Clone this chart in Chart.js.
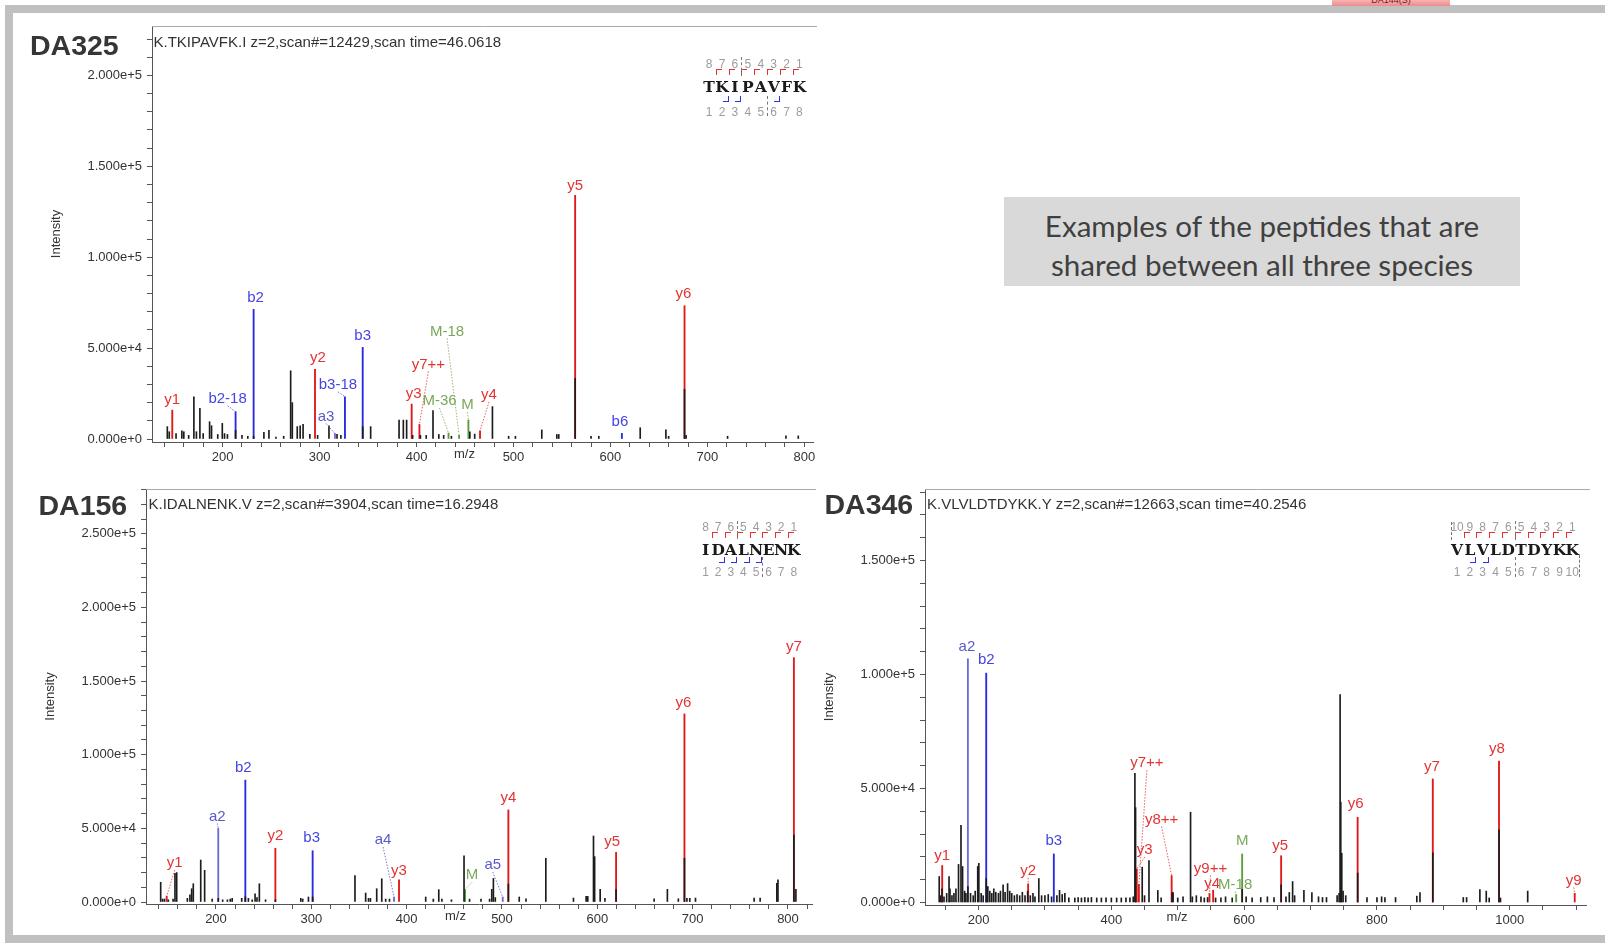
<!DOCTYPE html>
<html><head><meta charset="utf-8">
<script src="https://cdn.jsdelivr.net/npm/chart.js@4.4.0/dist/chart.umd.min.js"></script>
<style>
html,body{margin:0;padding:0;background:#fff;}
#page{position:relative;width:1605px;height:945px;overflow:hidden;background:#fff;}
#page canvas{position:absolute;}
#page div{position:absolute;white-space:nowrap;line-height:1;}
</style></head><body><div id="page"></div>
<script>
// ================= DATA =================
// DA325  K.TKIPAVFK.I
const DA325_PEAK_MZ = [143,145,152,158,160,165,170.4,173,176.6,180,186.6,188.6,195,199.7,202,205,213.4,220,226,232,242.6,247.8,255,263,270.2,271.9,277,280,283,290,298,309.7,318,322,344.5,352.7,382,386.4,389.8,396,404,410,417,423,428,436,455,460,478.3,495,502,529.2,544.7,546.7,563.6,580,588,630.7,657.2,660,676.4,678,720.8,781,793.7];
const DA325_PEAK_INT = [6800,4000,3000,4500,4000,2000,23200,4000,16900,3000,9500,7300,2500,8600,3000,2500,4800,2000,1500,1500,3700,4800,1000,1500,37500,20000,6800,7300,8000,2500,2000,7300,2500,2000,6800,6800,10400,10400,10400,2000,2000,2000,15600,2500,2000,1500,4000,2700,17800,1500,1500,5000,2500,2500,33300,1500,1500,6200,5000,1500,27300,2000,1500,1700,1700];
const DA325_ION_LABEL = ['y1','b2-18','b2','y2','a3','b3-18','b3','y3','y7++','M-36','M-18','M','y4','y5','b6','y6'];
const DA325_ION_MZ = [148.1,213.4,232,295.3,315.9,326.2,344.5,395,403,433,443.9,453.5,465.5,563.6,611.8,676.4];
const DA325_ION_INT = [15900,15000,71300,38300,3000,23200,50400,19200,8000,3300,2000,10400,4500,134000,3100,73300];

// DA156  K.IDALNENK.V
const DA156_PEAK_MZ = [142,144,146,150,155,157,158.8,170,172.7,174.5,176.2,184,188.1,196,202.4,207,212,215,217,227,230.8,234,238,241,243,245.5,252,262.3,289,291,297,301.4,345.8,357,360,362,368.6,373.9,378,382,420,428,433.7,437,447,460.2,466,478,487,489.3,491,493,506.7,518.1,525.2,546,575,588.3,590,596,597.2,603,608,619.7,659.6,673.5,685,691.4,694,697,703,764.5,770.8,788.3,789.5,806.2,808.3];
const DA156_PEAK_INT = [13400,2000,2000,1500,2000,19500,20000,2500,4800,9000,12400,28500,21500,2000,2500,1500,1500,2000,2500,2500,3500,2500,1500,5600,3000,12400,1500,1500,2500,2000,3400,3400,17900,6100,2500,2500,9000,15800,2000,2000,3400,2000,8400,2000,1500,31400,2000,2000,2000,8600,16000,3000,12200,3400,2200,29700,2700,3800,3800,44800,30800,8600,2500,8400,2200,8600,2200,29700,2500,2500,2700,2700,2700,12700,15000,45500,8600];
const DA156_ION_LABEL = ['y1','a2','b2','y2','b3','a4','y3','M','a5','y4','y5','y6','y7'];
const DA156_ION_MZ = [148.3,202.4,230.8,262.3,301.4,386.8,392,461.3,500.8,506.7,619.7,691.4,806.2];
const DA156_ION_INT = [4000,50000,82800,36500,34800,3400,15000,8600,3400,62500,33700,127700,165900];

// DA346  K.VLVLDTDYKK.Y
const DA346_PEAK_MZ = [
 140.8,143,145,148,152,155.6,157,160,163,166,
 169.9,173.6,176,179,181,184,188,192,195,198.8,
 200.5,204,207,211.6,214,217,220,223,226,230,
 233,237,240,243.8,247,250,254,258,262,266,
 270,274,278,282,285,290.8,295,300,305,310,
 318,322,326,330,336,345,350,355,360,365,
 370,378,385,392,400,408,415,422,428,433,
 435.5,436.5,446.5,450,456.7,470,475,491.5,493,500,
 508,519.3,522,528,535,540,545,557,565,572,
 582,597,603,612,625,635,645,655.7,663,668,
 673,676,690,702,712,718,724,740,743,744.5,
 745.5,747,749,753,771,785,800,807,812,828,
 860,864.8,884.1,930,935,955,964.6,969,983.8,986,
 1027];
const DA346_PEAK_INT = [
 11400,3000,6000,2500,4000,11400,6000,3000,4000,6000,
 16700,33800,15800,5000,4000,7000,4000,3000,5000,15800,
 17200,4000,3000,10500,7000,5000,4000,6000,4500,4000,
 5000,7800,4500,8300,5000,4000,3000,3500,3000,4500,
 3000,5000,3000,4000,2500,10500,3000,3000,3500,2500,
 3000,5300,3500,4000,2000,2000,2200,2000,2200,2000,
 2200,2000,2000,2000,2000,2000,2000,2000,2000,2500,
 56700,41600,15500,3000,18400,5300,2000,4400,4400,2000,
 2500,39600,2500,3000,2500,2000,2200,2000,2000,2500,
 2000,6000,2500,2000,2200,2500,2200,7800,2500,4400,
 9200,3000,5300,4400,2500,2200,2200,3000,4000,91200,
 44000,21600,5000,3000,12900,2200,2200,2500,2200,2200,
 2800,4400,21800,2200,2200,5700,5000,2000,31900,2000,
 5000];
const DA346_ION_LABEL = ['y1','a2','b2','y2','b3','y3','y7++','y8++','y9++','y4','M-18','M','y5','y6','y7','y8','y9'];
const DA346_ION_MZ = [145.3,184,211.6,274.7,313.4,438.3,441.5,490.8,547.8,553.3,588,597,655.7,770.9,884.1,983.8,1097.8];
const DA346_ION_INT = [16200,106900,100600,8200,21300,14700,8000,11800,4000,5400,3500,21300,20500,37400,54200,62000,4000];

// tick labels
const X_TICKS_A = [140,160,180,200,220,240,260,280,300,320,340,360,380,400,420,440,460,480,500,520,540,560,580,600,620,640,660,680,700,720,740,760,780,800];
const X_TICKS_B = X_TICKS_A.concat([820]);
const X_LABELS_AB = [200,300,400,500,600,700,800];
const X_TICKS_C = [150,200,250,300,350,400,450,500,550,600,650,700,750,800,850,900,950,1000,1050,1100];
const X_LABELS_C = [200,400,600,800,1000];
const Y_TICKS_A = [0,10000,20000,30000,40000,50000,60000,70000,80000,90000,100000,110000,120000,130000,140000,150000,160000,170000,180000,190000,200000,210000,220000];
const Y_LABELS_A = [0,50000,100000,150000,200000];
const Y_TICKS_B = Y_TICKS_A.concat([230000,240000,250000,260000,270000,280000]);
const Y_LABELS_B = [0,50000,100000,150000,200000,250000];
const Y_TICKS_C = Y_TICKS_A.slice(0,19);
const Y_LABELS_C = [0,50000,100000,150000];

// ================= LAYOUT (positions / styles) =================
// label offsets relative to peak top: [dx, dy, leader]
const DA325_LBL_POS = [[0,-10,0],[-8,-13,1],[2,-12,0],[3,-12,0],[-9,-17,1],[-7,-12,1],[0,-12,0],[2,-10,0],[9,-60,1],[-9,-32,1],[-12,-104,1],[-1,-15,1],[9,-36,1],[0,-10,0],[-2,-12,0],[-1,-12,0]];
const DA156_LBL_POS = [[8,-33,1],[-1,-12,1],[-2,-12,0],[0,-12,0],[-1,-13,0],[-11,-57,1],[0,-9,0],[7,-14,1],[-10,-32,1],[0,-12,0],[-4,-11,0],[-1,-11,0],[0,-11,0]];
const DA346_LBL_POS = [[0,-10,0],[-1,-12,0],[0,-13,0],[0,-13,1],[0,-13,0],[8,-19,1],[8,-121,1],[-10,-56,1],[1,-25,1],[-1,-6,0],[-1,-10,1],[0,-13,0],[-1,-10,0],[-2,-13,0],[-1,-12,0],[-2,-12,0],[-1,-13,1]];

const FONT = '"Liberation Sans", Arial, sans-serif';
const page = document.getElementById('page');
function el(css, text){ const e=document.createElement('div'); Object.assign(e.style, css); if(text!=null) e.textContent=text; page.appendChild(e); return e; }

function ionStyle(lbl){
  const t = lbl[0];
  if (t==='y') return {bar:'#e01818', text:'#e23434'};
  if (t==='b') return {bar:'#2a2ae2', text:'#4444e4'};
  if (t==='a') return {bar:'#6c6cd6', text:'#5a5acc'};
  return {bar:'#5f9a3c', text:'#78a858'};
}

const LEFT = 110, RIGHT = 10, PADT = 6, BOT = 30;

function makePanel(p){
  const W = Math.round(p.box.right - p.box.left + LEFT + RIGHT);
  const H = Math.round(p.box.bottom - p.box.top + PADT + BOT);
  const cv = document.createElement('canvas');
  cv.width = W; cv.height = H;
  cv.style.left = (p.box.left - LEFT) + 'px';
  cv.style.top = (p.box.top - PADT) + 'px';
  cv.style.width = W + 'px'; cv.style.height = H + 'px';
  page.appendChild(cv);

  const decor = {
    id: 'decor_' + p.name,
    afterDatasetsDraw(chart){
      const {ctx, chartArea: ca, scales:{x, y}} = chart;
      ctx.save();
      // panel frame top line
      ctx.strokeStyle = '#a9a9a9'; ctx.lineWidth = 1;
      ctx.beginPath(); ctx.moveTo(ca.left, Math.round(ca.top)+0.5); ctx.lineTo(ca.right+4, Math.round(ca.top)+0.5); ctx.stroke();
      // ion labels
      ctx.font = '15px ' + FONT;
      ctx.textAlign = 'center'; ctx.textBaseline = 'middle';
      p.ionLabel.forEach((lbl, i) => {
        const px = x.getPixelForValue(p.ionMz[i]);
        const py = y.getPixelForValue(p.ionInt[i]);
        const [dx, dy, lead] = p.lblPos[i];
        const st = ionStyle(lbl);
        const lx = px + dx, ly = py + dy;
        if (lead){
          ctx.save();
          ctx.strokeStyle = st.text; ctx.globalAlpha = 0.8; ctx.setLineDash([1.5,1.5]);
          ctx.beginPath(); ctx.moveTo(lx, ly + 7); ctx.lineTo(px, py); ctx.stroke();
          ctx.restore();
        }
        ctx.fillStyle = st.text;
        ctx.fillText(lbl, lx, ly);
      });
      // axis titles
      ctx.fillStyle = '#333';
      ctx.font = '13px ' + FONT;
      ctx.fillText('m/z', x.getPixelForValue(p.mzTitle), ca.bottom + 12.5);
      ctx.translate(ca.left - 95.5, (ca.top + ca.bottom)/2);
      ctx.rotate(-Math.PI/2);
      ctx.fillText('Intensity', 0, 0);
      ctx.restore();
    }
  };

  new Chart(cv, {
    type: 'bar',
    data: { datasets: [
      { label:'peaks', data: p.peakMz.map((m,i)=>({x:m, y:p.peakInt[i]})), backgroundColor:'#1c1c1c', barThickness:1, grouped:false, order:0 },
      { label:'ions', data: p.ionMz.map((m,i)=>({x:m, y:p.ionInt[i]})), backgroundColor: p.ionLabel.map(l=>ionStyle(l).bar), barThickness:1.2, grouped:false, order:1 }
    ]},
    options: {
      responsive:false, animation:false, devicePixelRatio:1,
      layout:{ padding:{ top:PADT, right:RIGHT, left:0, bottom:0 } },
      plugins:{ legend:{display:false}, tooltip:{enabled:false}, title:{display:false} },
      scales:{
        x:{ type:'linear', min:p.xMin, max:p.xMax, offset:false,
            afterFit(s){ s.height = BOT; s.paddingLeft = 0; s.paddingRight = 0; },
            afterBuildTicks(s){ s.ticks = p.xTicks.map(v=>({value:v})); },
            ticks:{ autoSkip:false, maxRotation:0, minRotation:0, padding:3, color:'#333', font:{family:FONT, size:13},
                    callback:(v)=> p.xLabels.includes(v) ? String(v) : '' },
            grid:{ display:true, drawOnChartArea:false, drawTicks:true, tickLength:5, color:'#555', offset:false },
            border:{ display:true, color:'#555', width:1 } },
        y:{ type:'linear', min:p.yMin, max:p.yMax,
            afterFit(s){ s.width = LEFT; s.paddingTop = 0; s.paddingBottom = 0; },
            afterBuildTicks(s){ s.ticks = p.yTicks.map(v=>({value:v})); },
            ticks:{ autoSkip:false, padding:5, color:'#333', font:{family:FONT, size:13},
                    callback:(v)=> p.yLabels.includes(v) ? Number(v).toExponential(3) : '' },
            grid:{ display:true, drawOnChartArea:false, drawTicks:true, tickLength:5, color:'#555' },
            border:{ display:true, color:'#555', width:1 } }
      }
    },
    plugins:[decor]
  });
}

makePanel({ name:'DA325', box:{left:151.5, top:25.6, right:812, bottom:442},
  xMin:127.2, xMax:808.9, yMin:-1650, yMax:227150,
  xTicks:X_TICKS_A, xLabels:X_LABELS_AB, yTicks:Y_TICKS_A, yLabels:Y_LABELS_A,
  peakMz:DA325_PEAK_MZ, peakInt:DA325_PEAK_INT, ionLabel:DA325_ION_LABEL, ionMz:DA325_ION_MZ, ionInt:DA325_ION_INT,
  lblPos:DA325_LBL_POS, mzTitle:449.4 });

makePanel({ name:'DA156', box:{left:146, top:489, right:812, bottom:904},
  xMin:126.6, xMax:825.2, yMin:-1358, yMax:280430,
  xTicks:X_TICKS_B, xLabels:X_LABELS_AB, yTicks:Y_TICKS_B, yLabels:Y_LABELS_B,
  peakMz:DA156_PEAK_MZ, peakInt:DA156_PEAK_INT, ionLabel:DA156_ION_LABEL, ionMz:DA156_ION_MZ, ionInt:DA156_ION_INT,
  lblPos:DA156_LBL_POS, mzTitle:451.2 });

makePanel({ name:'DA346', box:{left:925, top:489, right:1586, bottom:905},
  xMin:119.4, xMax:1114.8, yMin:-1096, yMax:181360,
  xTicks:X_TICKS_C, xLabels:X_LABELS_C, yTicks:Y_TICKS_C, yLabels:Y_LABELS_C,
  peakMz:DA346_PEAK_MZ, peakInt:DA346_PEAK_INT, ionLabel:DA346_ION_LABEL, ionMz:DA346_ION_MZ, ionInt:DA346_ION_INT,
  lblPos:DA346_LBL_POS, mzTitle:499 });

// ================= HTML decorations =================
// grey frame bands
el({left:'5px', top:'5px', width:'1600px', height:'8px', background:'#c0c0c0'});
el({left:'5px', top:'5px', width:'8px', height:'938px', background:'#c0c0c0'});
el({left:'5px', top:'935px', width:'1600px', height:'8px', background:'#c0c0c0'});
// pink tab
const tab = el({left:'1332px', top:'0px', width:'118px', height:'6px', background:'linear-gradient(#f7b4b4,#ec8a8a)', overflow:'hidden'});
const tabT = document.createElement('div');
Object.assign(tabT.style, {position:'absolute', left:'0', top:'-5px', width:'118px', textAlign:'center', font:'9px '+FONT, color:'#7a1515'});
tabT.textContent = 'DA144(S)'; tab.appendChild(tabT);

// text placed by baseline (Liberation Sans, line-height 1)
function textBase(txt, left, base, size, extra){
  return el(Object.assign({left:left+'px', top:(base - 0.8465*size)+'px', font:size+'px '+FONT, color:'#333'}, extra||{}), txt);
}
function textCenter(txt, cx, cy, font, size, color){
  return el({left:cx+'px', top:(cy - 0.486*size)+'px', font:font, color:color, transform:'translateX(-50%)'}, txt);
}

// sample names
textBase('DA325', 30, 52.7, 28.5, {fontWeight:'bold', color:'#363636'});
textBase('DA156', 38.5, 512.7, 28.5, {fontWeight:'bold', color:'#363636'});
textBase('DA346', 824.5, 511.7, 28.5, {fontWeight:'bold', color:'#363636', background:'#fff'});
// headers
textBase('K.TKIPAVFK.I z=2,scan#=12429,scan time=46.0618', 153.5, 45.4, 15);
textBase('K.IDALNENK.V z=2,scan#=3904,scan time=16.2948', 148.5, 508.1, 15);
textBase('K.VLVLDTDYKK.Y z=2,scan#=12663,scan time=40.2546', 927, 508.1, 15);

// peptide ladders
function ladder(c){
  const n = c.seq.length;
  for (let i=0;i<n;i++){
    const cx = c.x0 + (i+0.5)*c.cw;
    textCenter(String(n-i), cx, c.yNum, '12px '+FONT, 12, '#9c9c9c');
    textCenter(c.seq[i], cx, c.ySeq, 'bold 15.5px "DejaVu Serif", serif', 15.5, '#1a1a1a');
    textCenter(String(i+1), cx, c.yNumB, '12px '+FONT, 12, '#9c9c9c');
  }
  c.red.forEach(k=>{ const bx = Math.round(c.x0 + k*c.cw);
    el({left:bx+'px', top:c.yRed+'px', width:'5px', height:'5px', borderLeft:'1px solid #e83030', borderTop:'1px solid #e83030'}); });
  c.blue.forEach(k=>{ const bx = Math.round(c.x0 + k*c.cw);
    el({left:(bx-6)+'px', top:c.yBlue+'px', width:'5px', height:'5px', borderRight:'1px solid #3030e8', borderBottom:'1px solid #3030e8'}); });
  c.dash.forEach(d=>{ const bx = Math.round(c.x0 + d[0]*c.cw);
    el({left:bx+'px', top:d[1]+'px', width:'0px', height:(d[2]-d[1])+'px', borderLeft:'1px dashed #777'}); });
}
ladder({seq:'TKIPAVFK', x0:702.7, cw:12.9, yNum:62.4, yRed:69, ySeq:84.7, yBlue:96, yNumB:110.8, red:[1,2,3,4,5,6,7], blue:[2,3,6], dash:[[3,57,76],[5,96,116]]});
ladder({seq:'IDALNENK', x0:699.3, cw:12.6, yNum:525.8, yRed:532, ySeq:547.5, yBlue:557, yNumB:571, red:[1,2,3,4,5,6,7], blue:[2,3,4,5], dash:[[3,521,539],[5,557,577]]});
ladder({seq:'VLVLDTDYKK', x0:1450.7, cw:12.8, yNum:525.8, yRed:532, ySeq:547.5, yBlue:557, yNumB:571, red:[1,2,3,4,5,6,7,8,9], blue:[2,3], dash:[[0,522,540],[5,521,540],[5,557,577],[10,555,577]]});

// grey note box
el({left:'1004px', top:'196.5px', width:'516px', height:'89px', background:'#d9d9d9'});
(function(){
  const l1 = 'Examples of the peptides that are', l2 = 'shared between all three species';
  const c = document.createElement('canvas').getContext('2d');
  c.font = '28px Lato'; const w = c.measureText(l1).width;
  const size = 28 * 435 / w;
  [[l1, 226],[l2, 265]].forEach(([t, cy])=>{
    el({left:'1262px', top:(cy - 0.62*size)+'px', font:size.toFixed(2)+'px Lato, "Open Sans", sans-serif', color:'#404040', transform:'translateX(-50%)', lineHeight:'1.2'}, t);
  });
})();
</script>
</body></html>
